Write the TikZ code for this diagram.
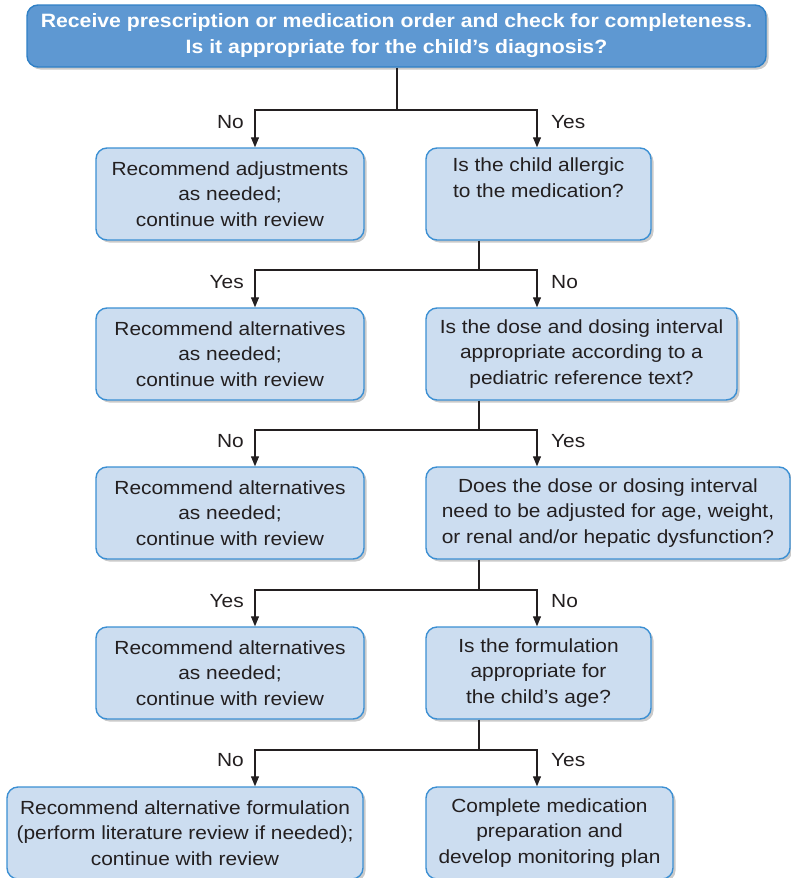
\documentclass[tikz,border=0pt]{standalone}
\usepackage{fontspec}
\setmainfont{Liberation Sans}[FakeStretch=1.1]
\usetikzlibrary{arrows.meta,shadows}
\definecolor{topfill}{HTML}{5E98D2}
\definecolor{topdraw}{HTML}{2F80C6}
\definecolor{boxfill}{HTML}{CCDDF0}
\definecolor{boxdraw}{HTML}{3B8FD3}
\definecolor{ink}{HTML}{231F20}
\begin{document}
\begin{tikzpicture}[x=1pt,y=-1pt,
  every node/.style={font=\fontsize{19}{25.5}\selectfont, text=ink},
  boxbase/.style={draw=boxdraw, line width=1.4pt, rounded corners=11pt, fill=boxfill,
     align=center, inner sep=0pt, minimum height=92pt,
     drop shadow={shadow xshift=2.5pt, shadow yshift=-2.5pt, opacity=0.35, fill=black!60}},
  topbox/.style={boxbase, fill=topfill, draw=topdraw, minimum height=62pt, text=white,
     font=\fontsize{19.3}{26}\selectfont\bfseries},
  conn/.style={draw=ink, line width=1.1pt},
  arr/.style={conn, -{Triangle[length=10pt,width=8pt]}},
  lab/.style={inner sep=0pt}]
\useasboundingbox (0,0) rectangle (791,878);

% boxes
\node[topbox, minimum width=739pt] (top) at (396.5,36)
  {\raisebox{-2pt}{Receive prescription or medication order and check for completeness.}\\\raisebox{-2pt}{Is it appropriate for the child’s diagnosis?}};

\node[boxbase, minimum width=268pt] (L1) at (230,194)
  {Recommend adjustments\\as needed;\\continue with review};
\node[boxbase, minimum width=225pt] (R1) at (538.5,194)
  {Is the child allergic\\to the medication?\\\strut};

\node[boxbase, minimum width=268pt] (L2) at (230,354)
  {Recommend alternatives\\as needed;\\continue with review};
\node[boxbase, minimum width=311pt] (R2) at (581.5,354)
  {Is the dose and dosing interval\\appropriate according to a\\pediatric reference text?};

\node[boxbase, minimum width=268pt] (L3) at (230,513)
  {Recommend alternatives\\as needed;\\continue with review};
\node[boxbase, minimum width=364pt] (R3) at (608,513)
  {Does the dose or dosing interval\\need to be adjusted for age, weight,\\or renal and/or hepatic dysfunction?};

\node[boxbase, minimum width=268pt] (L4) at (230,673)
  {Recommend alternatives\\as needed;\\continue with review};
\node[boxbase, minimum width=225pt] (R4) at (538.5,673)
  {Is the formulation\\appropriate for\\the child’s age?};

\node[boxbase, minimum width=356pt] (L5) at (185,833)
  {Recommend alternative formulation\\(perform literature review if needed);\\continue with review};
\node[boxbase, minimum width=247pt] (R5) at (549.5,833)
  {Complete medication\\preparation and\\develop monitoring plan};

% arrow columns
\coordinate (aL) at (255,0);
\coordinate (aR) at (537,0);

% junctions
\coordinate (j0) at (397,110);
\coordinate (j1) at (479,270);
\coordinate (j2) at (479,430);
\coordinate (j3) at (479,590);
\coordinate (j4) at (479,750);

\draw[conn, line width=1.8pt] (top.south -| j0) -- (j0);
\draw[arr] (j0) -| (L1.north -| aL);
\draw[arr] (j0) -| (R1.north -| aR);

\draw[conn] (R1.south -| j1) -- (j1);
\draw[arr] (j1) -| (L2.north -| aL);
\draw[arr] (j1) -| (R2.north -| aR);

\draw[conn] (R2.south -| j2) -- (j2);
\draw[arr] (j2) -| (L3.north -| aL);
\draw[arr] (j2) -| (R3.north -| aR);

\draw[conn] (R3.south -| j3) -- (j3);
\draw[arr] (j3) -| (L4.north -| aL);
\draw[arr] (j3) -| (R4.north -| aR);

\draw[conn] (R4.south -| j4) -- (j4);
\draw[arr] (j4) -| (L5.north -| aL);
\draw[arr] (j4) -| (R5.north -| aR);

% labels
\node[lab, anchor=east] (n1) at (244,122) {No};
\node[lab, anchor=west] (y1) at (551,122) {Yes};
\node[lab, anchor=east] (y2) at (244,282) {Yes};
\node[lab, anchor=west] (n2) at (551,282) {No};
\node[lab, anchor=east] (n3) at (244,441) {No};
\node[lab, anchor=west] (y3) at (551,441) {Yes};
\node[lab, anchor=east] (y4) at (244,601) {Yes};
\node[lab, anchor=west] (n4) at (551,601) {No};
\node[lab, anchor=east] (n5) at (244,760) {No};
\node[lab, anchor=west] (y5) at (551,760) {Yes};
\end{tikzpicture}
\end{document}
